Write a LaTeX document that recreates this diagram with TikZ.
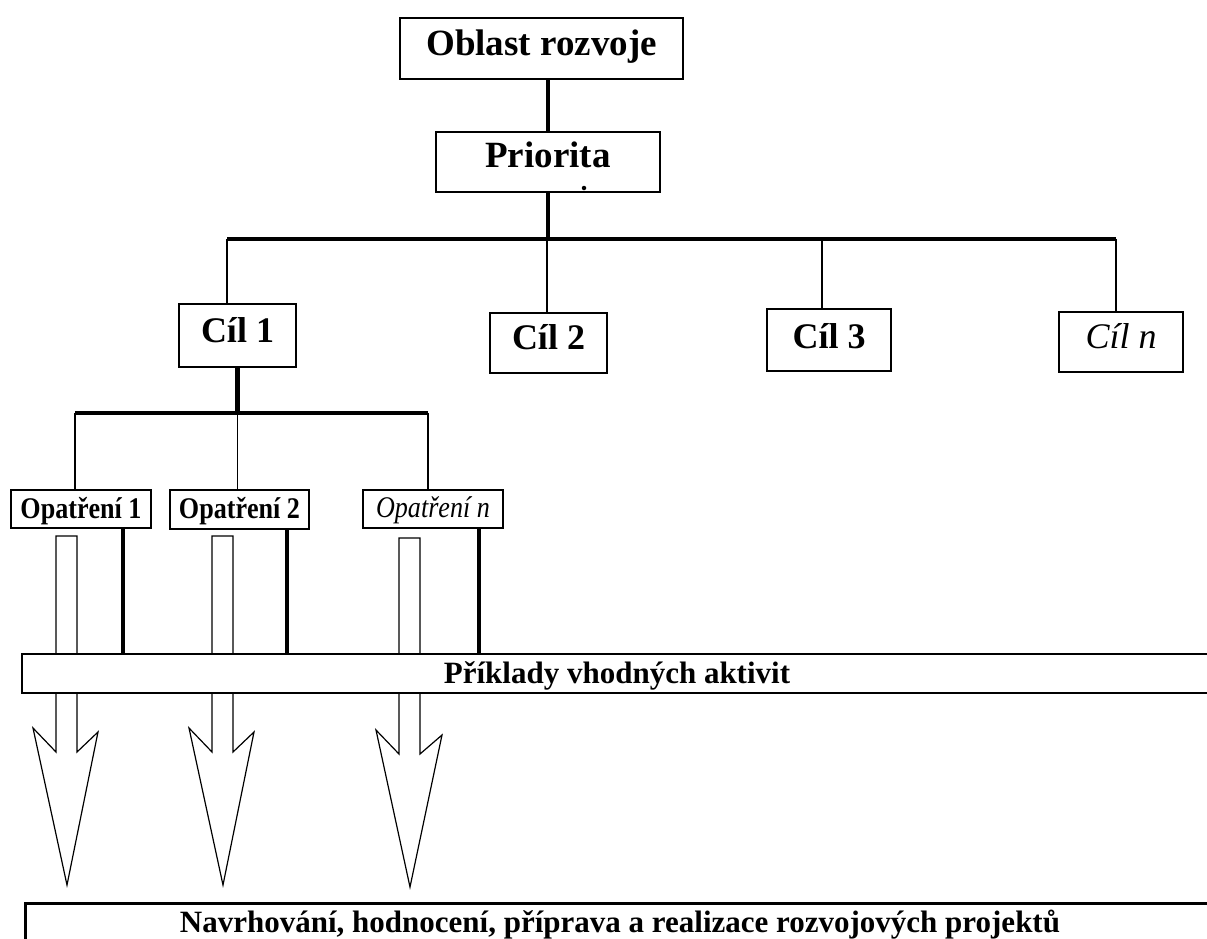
\documentclass[tikz,border=0pt]{standalone}
\usepackage{fontspec}
\setmainfont{Liberation Serif}
\newfontfamily\opfam[FakeStretch=0.87]{Liberation Serif}
\begin{document}
\begin{tikzpicture}[x=1pt,y=-1pt,
  box/.style={draw, line width=2.5pt, inner sep=0pt, fill=white},
  bigfont/.style={font=\fontsize{37}{40}\selectfont\bfseries},
  cilfont/.style={font=\fontsize{36}{40}\selectfont\bfseries},
  cilifont/.style={font=\fontsize{36}{40}\selectfont\itshape},
  opfont/.style={font=\opfam\fontsize{30}{33}\selectfont\bfseries},
  opifont/.style={font=\opfam\fontsize{30}{33}\selectfont\itshape},
  bandfont/.style={font=\fontsize{31}{34}\selectfont\bfseries},
  bigline/.style={line width=4.7pt},
  thinline/.style={line width=1.7pt},
  arrowline/.style={draw, line width=1.2pt, fill=white, line join=miter}]
\useasboundingbox (0,0) rectangle (1207,938);

% top boxes
\node[box, bigfont, minimum width=283pt, minimum height=61pt, text height=25pt, text depth=12pt] (oblast) at (541.5,48.5) {Oblast rozvoje};
\node[box, bigfont, minimum width=224pt, minimum height=60pt, text height=25pt, text depth=15pt] (pri) at (548,162) {Priorita};
\node[circle, fill, inner sep=0pt, minimum size=4.5pt] (dot) at (584,188) {};

\draw[bigline] (pri.north) -- (pri.north |- oblast.south);

% goal bar
\coordinate (barL) at (227,239);
\coordinate (barR) at (1116,239);
\coordinate (c2) at (547,239);
\coordinate (c3) at (822,239);
\draw[bigline] (pri.south) -- (pri.south |- barL);
\draw[bigline] (barL) -- (barR);

\node[box, cilfont, minimum width=117pt, minimum height=63pt, text height=24pt, text depth=11pt] (cil1) at (237.5,335.5) {Cíl 1};
\node[box, cilfont, minimum width=117pt, minimum height=60pt, text height=24pt, text depth=12pt] (cil2) at (548.5,343) {Cíl 2};
\node[box, cilfont, minimum width=124pt, minimum height=62pt, text height=24pt, text depth=8pt] (cil3) at (829,340) {Cíl 3};
\node[box, cilifont, minimum width=124pt, minimum height=60pt, text height=24pt, text depth=12pt] (ciln) at (1121,342) {Cíl \textit{n}};

\draw[thinline] (barL) -- (barL |- cil1.north);
\draw[thinline] (c2) -- (c2 |- cil2.north);
\draw[thinline] (c3) -- (c3 |- cil3.north);
\draw[thinline] (barR) -- (barR |- ciln.north);

% measures bar
\coordinate (subL) at (75,413);
\coordinate (subR) at (428,413);
\draw[bigline] (cil1.south) -- (cil1.south |- subL);
\draw[bigline] (subL) -- (subR);

\node[box, opfont, line width=2pt, minimum width=140pt, minimum height=38pt, text height=20pt, text depth=2pt] (op1) at (81,509) {Opatření 1};
\node[box, opfont, line width=2pt, minimum width=139pt, minimum height=39pt, text height=20pt, text depth=2pt] (op2) at (239.5,509.5) {Opatření 2};
\node[box, opifont, line width=2pt, minimum width=140pt, minimum height=38pt, text height=20pt, text depth=4pt] (opn) at (433,509) {Opatření \textit{n}};

\draw[thinline] (subL) -- (subL |- op1.north);
\draw[thinline] (cil1.south |- subL) -- (cil1.south |- op2.north);
\draw[thinline] (subR) -- (subR |- opn.north);

% hollow arrows
\draw[arrowline] (56,536) -- (56,752) -- (33,728) -- (67,885) -- (98,732) -- (77,752) -- (77,536) -- cycle;
\draw[arrowline] (212,536) -- (212,752) -- (189,728) -- (223,885) -- (254,732) -- (233,752) -- (233,536) -- cycle;
\draw[arrowline] (399,538) -- (399,754) -- (376,730) -- (410,887) -- (442,735) -- (420,754) -- (420,538) -- cycle;

% activities band
\node[box, bandfont, line width=2pt, minimum width=1190pt, minimum height=39pt, text height=21pt, text depth=2pt] (prik) at (617,673.5) {Příklady vhodných aktivit};

\coordinate (t1) at (123,600);
\coordinate (t2) at (287,600);
\coordinate (t3) at (479,600);
\draw[bigline] (t1 |- op1.south) -- (t1 |- prik.north);
\draw[bigline] (t2 |- op2.south) -- (t2 |- prik.north);
\draw[bigline] (t3 |- opn.south) -- (t3 |- prik.north);

% bottom band
\node[box, bandfont, line width=3pt, minimum width=1190pt, minimum height=60pt, text height=21pt, text depth=23pt] (proj) at (620,933) {Navrhování, hodnocení, příprava a realizace rozvojových projektů};
\end{tikzpicture}
\end{document}
